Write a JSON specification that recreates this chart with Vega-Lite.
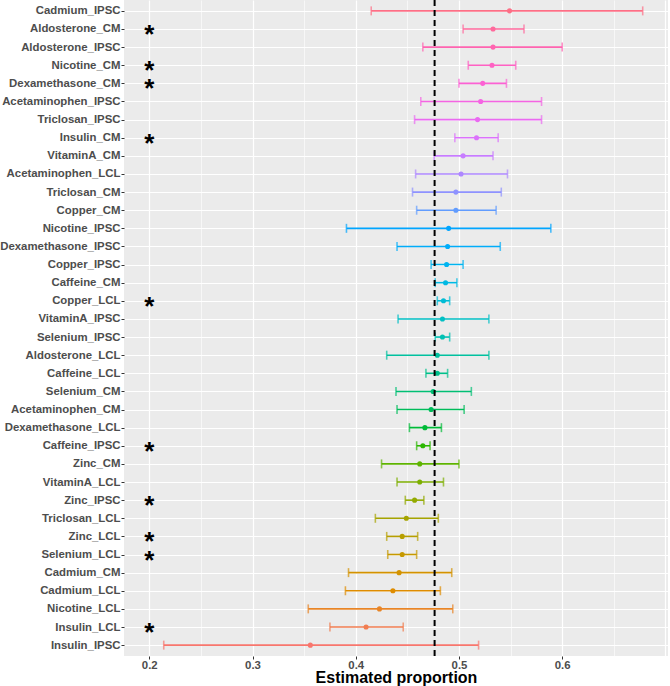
{
  "$schema": "https://vega.github.io/schema/vega-lite/v6.json",
  "autosize": "none",
  "width": 544,
  "height": 656,
  "padding": {"left": 124, "top": 0, "right": 2, "bottom": 30},
  "background": "white",
  "config": {
    "view": {"fill": "#EBEBEB", "stroke": null},
    "axis": {
      "labelFont": "Liberation Sans",
      "labelFontWeight": "bold",
      "labelColor": "#4D4D4D",
      "labelFontSize": 11.4,
      "tickColor": "#333333",
      "tickSize": 3,
      "tickWidth": 1,
      "domain": false,
      "gridColor": "white",
      "gridWidth": 1.2,
      "gridOpacity": 1
    }
  },
  "datasets": {
    "estimates": [
      {"name": "Cadmium_IPSC", "est": 0.549, "lower": 0.415, "upper": 0.678, "signif": false},
      {"name": "Aldosterone_CM", "est": 0.533, "lower": 0.504, "upper": 0.563, "signif": true},
      {"name": "Aldosterone_IPSC", "est": 0.533, "lower": 0.465, "upper": 0.600, "signif": false},
      {"name": "Nicotine_CM", "est": 0.532, "lower": 0.509, "upper": 0.555, "signif": true},
      {"name": "Dexamethasone_CM", "est": 0.523, "lower": 0.500, "upper": 0.546, "signif": true},
      {"name": "Acetaminophen_IPSC", "est": 0.521, "lower": 0.463, "upper": 0.580, "signif": false},
      {"name": "Triclosan_IPSC", "est": 0.518, "lower": 0.457, "upper": 0.580, "signif": false},
      {"name": "Insulin_CM", "est": 0.517, "lower": 0.496, "upper": 0.538, "signif": true},
      {"name": "VitaminA_CM", "est": 0.504, "lower": 0.476, "upper": 0.533, "signif": false},
      {"name": "Acetaminophen_LCL", "est": 0.502, "lower": 0.458, "upper": 0.547, "signif": false},
      {"name": "Triclosan_CM", "est": 0.497, "lower": 0.455, "upper": 0.541, "signif": false},
      {"name": "Copper_CM", "est": 0.497, "lower": 0.459, "upper": 0.536, "signif": false},
      {"name": "Nicotine_IPSC", "est": 0.490, "lower": 0.391, "upper": 0.589, "signif": false},
      {"name": "Dexamethasone_IPSC", "est": 0.489, "lower": 0.440, "upper": 0.540, "signif": false},
      {"name": "Copper_IPSC", "est": 0.488, "lower": 0.473, "upper": 0.504, "signif": false},
      {"name": "Caffeine_CM", "est": 0.487, "lower": 0.477, "upper": 0.498, "signif": false},
      {"name": "Copper_LCL", "est": 0.485, "lower": 0.479, "upper": 0.491, "signif": true},
      {"name": "VitaminA_IPSC", "est": 0.484, "lower": 0.441, "upper": 0.529, "signif": false},
      {"name": "Selenium_IPSC", "est": 0.484, "lower": 0.477, "upper": 0.491, "signif": false},
      {"name": "Aldosterone_LCL", "est": 0.479, "lower": 0.430, "upper": 0.529, "signif": false},
      {"name": "Caffeine_LCL", "est": 0.479, "lower": 0.468, "upper": 0.489, "signif": false},
      {"name": "Selenium_CM", "est": 0.475, "lower": 0.439, "upper": 0.512, "signif": false},
      {"name": "Acetaminophen_CM", "est": 0.473, "lower": 0.440, "upper": 0.505, "signif": false},
      {"name": "Dexamethasone_LCL", "est": 0.467, "lower": 0.452, "upper": 0.483, "signif": false},
      {"name": "Caffeine_IPSC", "est": 0.465, "lower": 0.459, "upper": 0.472, "signif": true},
      {"name": "Zinc_CM", "est": 0.462, "lower": 0.425, "upper": 0.500, "signif": false},
      {"name": "VitaminA_LCL", "est": 0.462, "lower": 0.440, "upper": 0.485, "signif": false},
      {"name": "Zinc_IPSC", "est": 0.457, "lower": 0.448, "upper": 0.466, "signif": true},
      {"name": "Triclosan_LCL", "est": 0.449, "lower": 0.419, "upper": 0.480, "signif": false},
      {"name": "Zinc_LCL", "est": 0.445, "lower": 0.430, "upper": 0.460, "signif": true},
      {"name": "Selenium_LCL", "est": 0.445, "lower": 0.431, "upper": 0.459, "signif": true},
      {"name": "Cadmium_CM", "est": 0.442, "lower": 0.393, "upper": 0.493, "signif": false},
      {"name": "Cadmium_LCL", "est": 0.436, "lower": 0.390, "upper": 0.482, "signif": false},
      {"name": "Nicotine_LCL", "est": 0.423, "lower": 0.354, "upper": 0.494, "signif": false},
      {"name": "Insulin_LCL", "est": 0.410, "lower": 0.375, "upper": 0.446, "signif": true},
      {"name": "Insulin_IPSC", "est": 0.356, "lower": 0.214, "upper": 0.519, "signif": false}
    ],
    "reference": [{"overall": 0.4764}]
  },
  "layer": [
    {
      "data": {"name": "estimates"},
      "mark": {"type": "rule", "strokeWidth": 1.6},
      "encoding": {
        "y": {
          "field": "name", "type": "nominal",
          "scale": {"type": "point", "padding": 0.6, "domain": ["Cadmium_IPSC","Aldosterone_CM","Aldosterone_IPSC","Nicotine_CM","Dexamethasone_CM","Acetaminophen_IPSC","Triclosan_IPSC","Insulin_CM","VitaminA_CM","Acetaminophen_LCL","Triclosan_CM","Copper_CM","Nicotine_IPSC","Dexamethasone_IPSC","Copper_IPSC","Caffeine_CM","Copper_LCL","VitaminA_IPSC","Selenium_IPSC","Aldosterone_LCL","Caffeine_LCL","Selenium_CM","Acetaminophen_CM","Dexamethasone_LCL","Caffeine_IPSC","Zinc_CM","VitaminA_LCL","Zinc_IPSC","Triclosan_LCL","Zinc_LCL","Selenium_LCL","Cadmium_CM","Cadmium_LCL","Nicotine_LCL","Insulin_LCL","Insulin_IPSC"]},
          "axis": {"title": null, "labelPadding": 1, "grid": true}
        },
        "x": {
          "field": "lower", "type": "quantitative",
          "scale": {"domain": [0.1755, 0.7025], "nice": false, "zero": false},
          "axis": {
            "title": "Estimated proportion",
            "titleFont": "Liberation Sans",
            "titleFontSize": 16,
            "titleFontWeight": "bold",
            "titleColor": "black",
            "titleBaseline": "alphabetic",
            "titleY": 26,
            "values": [0.2, 0.25, 0.3, 0.35, 0.4, 0.45, 0.5, 0.55, 0.6, 0.65, 0.7],
            "labelExpr": "(abs(datum.value*10 - round(datum.value*10)) < 0.001 && datum.value < 0.69) ? format(datum.value, '.1f') : ''",
            "labelPadding": 0,
            "grid": true,
            "gridWidth": {"condition": {"test": "abs(datum.value*10 - round(datum.value*10)) < 0.001", "value": 1.2}, "value": 0.6},
            "tickOpacity": {"condition": {"test": "abs(datum.value*10 - round(datum.value*10)) < 0.001 && datum.value < 0.69", "value": 1}, "value": 0}
          }
        },
        "x2": {"field": "upper"},
        "color": {
          "field": "name", "type": "nominal", "legend": null,
          "scale": {
            "domain": ["Cadmium_IPSC","Aldosterone_CM","Aldosterone_IPSC","Nicotine_CM","Dexamethasone_CM","Acetaminophen_IPSC","Triclosan_IPSC","Insulin_CM","VitaminA_CM","Acetaminophen_LCL","Triclosan_CM","Copper_CM","Nicotine_IPSC","Dexamethasone_IPSC","Copper_IPSC","Caffeine_CM","Copper_LCL","VitaminA_IPSC","Selenium_IPSC","Aldosterone_LCL","Caffeine_LCL","Selenium_CM","Acetaminophen_CM","Dexamethasone_LCL","Caffeine_IPSC","Zinc_CM","VitaminA_LCL","Zinc_IPSC","Triclosan_LCL","Zinc_LCL","Selenium_LCL","Cadmium_CM","Cadmium_LCL","Nicotine_LCL","Insulin_LCL","Insulin_IPSC"],
            "range": ["#FD6F86","#FF699C","#FF64B0","#FF61C3","#FC61D4","#F564E3","#EA6AF1","#DB72FB","#C77CFF","#AE87FF","#8E92FF","#619CFF","#00A5FF","#00ADFA","#00B4F0","#00B9E3","#00BCD5","#00BFC4","#00C0B3","#00C19F","#00C08B","#00BF74","#00BC5A","#00BA38","#2BB600","#5EB300","#7CAE00","#93AA00","#A6A400","#B79F00","#C69900","#D39200","#DE8C00","#E88526","#F17D50","#F8766D"]
          }
        }
      }
    },
    {
      "data": {"name": "estimates"},
      "mark": {"type": "tick", "orient": "vertical", "size": 9, "thickness": 1.6},
      "encoding": {
        "y": {"field": "name", "type": "nominal"},
        "x": {"field": "lower", "type": "quantitative"},
        "color": {"field": "name", "type": "nominal", "legend": null}
      }
    },
    {
      "data": {"name": "estimates"},
      "mark": {"type": "tick", "orient": "vertical", "size": 9, "thickness": 1.6},
      "encoding": {
        "y": {"field": "name", "type": "nominal"},
        "x": {"field": "upper", "type": "quantitative"},
        "color": {"field": "name", "type": "nominal", "legend": null}
      }
    },
    {
      "data": {"name": "estimates"},
      "mark": {"type": "point", "filled": true, "opacity": 1, "size": 26},
      "encoding": {
        "y": {"field": "name", "type": "nominal"},
        "x": {"field": "est", "type": "quantitative"},
        "color": {"field": "name", "type": "nominal", "legend": null}
      }
    },
    {
      "data": {"name": "reference"},
      "mark": {"type": "rule", "color": "black", "strokeWidth": 2, "strokeDash": [6, 4]},
      "encoding": {
        "x": {"field": "overall", "type": "quantitative"}
      }
    },
    {
      "data": {"name": "estimates"},
      "transform": [{"filter": "datum.signif"}],
      "mark": {"type": "text", "text": "*", "font": "Liberation Sans", "fontSize": 26, "fontWeight": "bold", "color": "black", "baseline": "alphabetic", "align": "center", "dy": 14},
      "encoding": {
        "y": {"field": "name", "type": "nominal"},
        "x": {"datum": 0.2, "type": "quantitative"}
      }
    }
  ]
}
